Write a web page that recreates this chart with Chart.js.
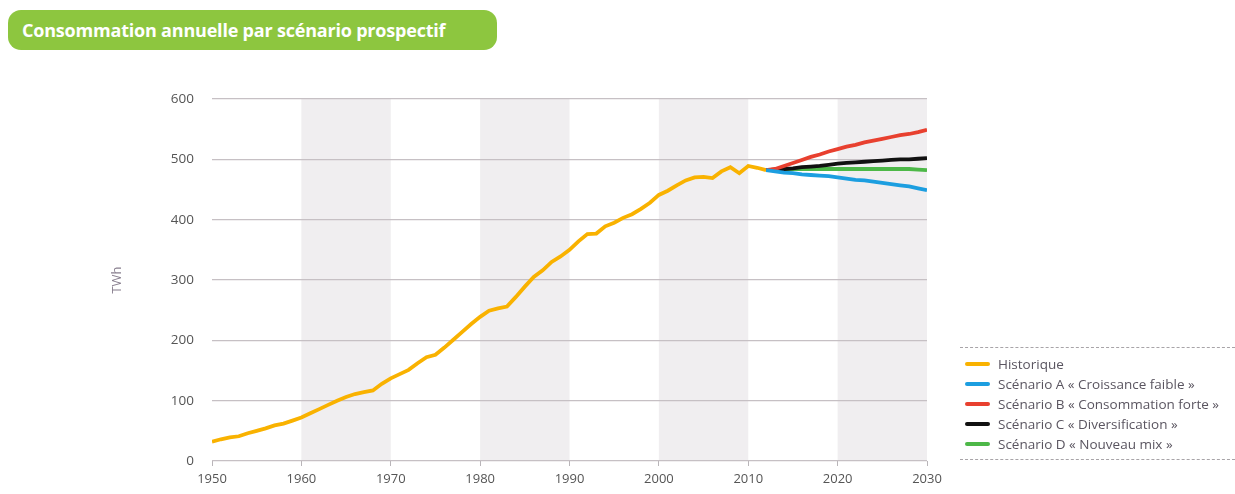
<!DOCTYPE html>
<html>
<head>
<meta charset="utf-8">
<script src="https://cdn.jsdelivr.net/npm/chart.js@4/dist/chart.umd.min.js"></script>
<style>
  html, body { margin: 0; padding: 0; background: #fff; }
  #wrap { position: relative; width: 1235px; height: 494px; overflow: hidden; }
  #title {
    position: absolute; left: 8px; top: 10px; width: 489px; height: 40px;
    background: #8dc63f; border-radius: 13px;
    color: #fff; font: bold 18px "Open Sans", sans-serif; line-height: 40px;
    padding-left: 14px; box-sizing: border-box; letter-spacing: -0.2px;
  }
  #legend {
    position: absolute; left: 960px; top: 347px; width: 275px; height: 113px;
    border-top: 1px dashed #a8a4a8; border-bottom: 1px dashed #a8a4a8;
    font: 13.5px "Open Sans", sans-serif; color: #5a5560;
    box-sizing: border-box; padding-top: 6px; white-space: nowrap;
  }
  .item { height: 20px; line-height: 20px; display: flex; align-items: center; }
  .sw { width: 25px; height: 4px; border-radius: 2px; margin: 0 8px 0 5px; flex: none; }
  canvas { position: absolute; left: 0; top: 0; }
</style>
</head>
<body>
<div id="wrap">
  <canvas id="chart" width="1235" height="494"></canvas>
  <div id="title">Consommation annuelle par scénario prospectif</div>
  <div id="legend"></div>
</div>
<script>
const histYears = [1950, 1951, 1952, 1953, 1954, 1955, 1956, 1957, 1958, 1959,
  1960, 1961, 1962, 1963, 1964, 1965, 1966, 1967, 1968, 1969,
  1970, 1971, 1972, 1973, 1974, 1975, 1976, 1977, 1978, 1979,
  1980, 1981, 1982, 1983, 1984, 1985, 1986, 1987, 1988, 1989,
  1990, 1991, 1992, 1993, 1994, 1995, 1996, 1997, 1998, 1999,
  2000, 2001, 2002, 2003, 2004, 2005, 2006, 2007, 2008, 2009,
  2010, 2011, 2012];
const historique = [32, 36, 39, 41, 46, 50, 54, 59, 62, 67,
  72, 79, 86, 93, 100, 106, 111, 114, 117, 128,
  137, 144, 151, 162, 172, 176, 188, 201, 214, 227,
  239, 249, 253, 256, 272, 289, 305, 316, 330, 339,
  350, 364, 376, 377, 389, 395, 403, 409, 418, 428,
  441, 448, 457, 465, 470, 471, 469, 480, 487, 477,
  489, 486, 482];

const scenYears = [2012, 2013, 2014, 2015, 2016, 2017, 2018, 2019, 2020, 2021,
  2022, 2023, 2024, 2025, 2026, 2027, 2028, 2029, 2030];
const scenarioA = [482, 480, 478, 477, 475, 474, 473, 472, 470, 468, 466, 465, 463, 461, 459, 457, 455, 452, 449];
const scenarioB = [482, 484, 489, 494, 499, 504, 508, 513, 517, 521, 524, 528, 531, 534, 537, 540, 542, 545, 549];
const scenarioC = [482, 483, 484, 485, 487, 488, 489, 491, 493, 494, 495, 496, 497, 498, 499, 500, 500, 501, 502];
const scenarioD = [482, 483, 483, 484, 484, 484, 484, 484, 484, 484, 484, 484, 484, 484, 484, 484, 484, 483, 482];

const yTicks = [0, 100, 200, 300, 400, 500, 600];
const xTicks = [1950, 1960, 1970, 1980, 1990, 2000, 2010, 2020, 2030];
const shadedDecades = [[1960, 1970], [1980, 1990], [2000, 2010], [2020, 2030]];

const series = [
  { label: "Historique", years: histYears, values: historique, color: "#f9b200" },
  { label: "Scénario A « Croissance faible »", years: scenYears, values: scenarioA, color: "#1c9ee0" },
  { label: "Scénario B « Consommation forte »", years: scenYears, values: scenarioB, color: "#e8402f" },
  { label: "Scénario C « Diversification »", years: scenYears, values: scenarioC, color: "#111111" },
  { label: "Scénario D « Nouveau mix »", years: scenYears, values: scenarioD, color: "#4db848" }
];

// draw order: blue on top of the others, yellow at the back
const drawOrder = [4, 0, 1, 2, 3];

const bandsPlugin = {
  id: "bands",
  beforeDraw(chart) {
    const { ctx, chartArea, scales } = chart;
    ctx.save();
    ctx.fillStyle = "#f0eef0";
    for (const [a, b] of shadedDecades) {
      const x1 = scales.x.getPixelForValue(a);
      const x2 = scales.x.getPixelForValue(b);
      ctx.fillRect(x1, chartArea.top, x2 - x1, chartArea.bottom - chartArea.top);
    }
    ctx.restore();
  }
};

const legend = document.getElementById("legend");
for (const s of series) {
  const div = document.createElement("div");
  div.className = "item";
  div.innerHTML = `<span class="sw" style="background:${s.color}"></span><span>${s.label}</span>`;
  legend.appendChild(div);
}

new Chart(document.getElementById("chart"), {
  type: "line",
  data: {
    datasets: series.map((s, i) => ({
      label: s.label,
      data: s.years.map((y, j) => ({ x: y, y: s.values[j] })),
      borderColor: s.color,
      borderWidth: 3.8,
      pointRadius: 0,
      tension: 0,
      order: drawOrder[i]
    }))
  },
  options: {
    responsive: false,
    animation: false,
    layout: { padding: { top: 99, right: 308, left: 0, bottom: 0 } },
    plugins: { legend: { display: false }, tooltip: { enabled: false } },
    scales: {
      x: {
        type: "linear",
        min: 1950,
        max: 2030,
        afterFit: (s) => { s.height = 33; },
        afterBuildTicks: (s) => { s.ticks = xTicks.map((v) => ({ value: v })); },
        grid: { drawOnChartArea: false, drawTicks: true, tickLength: 5, color: "#b9b5b9" },
        border: { display: false },
        ticks: {
          padding: 5,
          color: "#555",
          font: { family: "Open Sans", size: 13 },
          maxRotation: 0,
          callback: (v) => String(v)
        }
      },
      y: {
        min: 0,
        max: 600,
        afterFit: (s) => { s.width = 212; },
        afterBuildTicks: (s) => { s.ticks = yTicks.map((v) => ({ value: v })); },
        grid: { drawTicks: false, color: "#c6c0c4", lineWidth: 1.2 },
        border: { display: false },
        ticks: {
          padding: 18,
          color: "#555",
          font: { family: "Open Sans", size: 13.5 }
        },
        title: {
          display: true,
          text: "TWh",
          color: "#8a8090",
          font: { family: "Open Sans", size: 13 },
          padding: { top: 109, bottom: 0 }
        }
      }
    }
  },
  plugins: [bandsPlugin]
});
</script>
</body>
</html>
